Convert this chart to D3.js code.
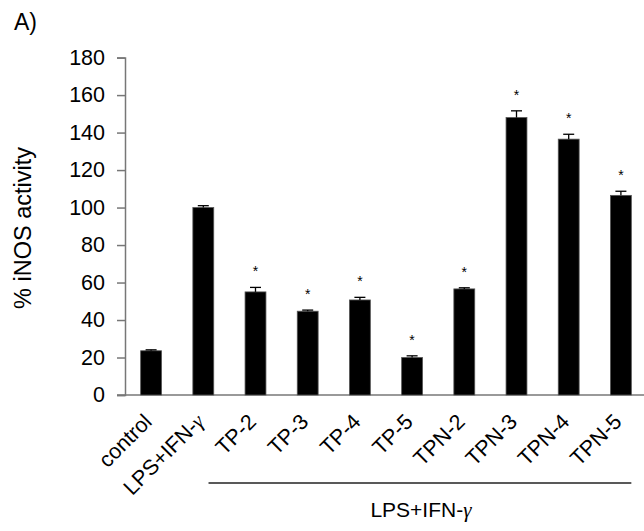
<!DOCTYPE html>
<html><head><meta charset="utf-8">
<script src="https://cdn.jsdelivr.net/npm/d3@7"></script>
<style>body{margin:0;background:#fff}svg{display:block}text{font-family:"Liberation Sans",Arial,Helvetica,sans-serif}</style>
</head><body><svg id="c" width="644" height="531"></svg>
<script>
const categories = ["control","LPS+IFN-γ","TP-2","TP-3","TP-4","TP-5","TPN-2","TPN-3","TPN-4","TPN-5"];
const values = [23.6, 100, 55, 44.7, 50.7, 20, 56.6, 148, 136.5, 106.5];
const errors = [0.5, 1.0, 2.4, 0.6, 1.4, 0.9, 0.6, 3.6, 2.6, 2.2];
const significant = [false, false, true, true, true, true, true, true, true, true];
const yTicks = [0,20,40,60,80,100,120,140,160,180];
const groupLabel = "LPS+IFN-";
const groupCats = ["TP-2","TPN-5"];

const svg = d3.select("#c");
const x = d3.scaleBand().domain(categories).range([125, 647]).paddingInner(0.6).paddingOuter(0.3);
const y = d3.scaleLinear().domain([0,180]).range([395, 57.6]);

svg.append("text").attr("x",14).attr("y",30).attr("font-size",23).text("A)");

// y axis
const ya = svg.append("g").attr("transform","translate(125,0)")
  .call(d3.axisLeft(y).tickValues(yTicks).tickSize(8).tickPadding(12));
ya.select(".domain").attr("stroke","#777").attr("stroke-width",1.5);
ya.selectAll(".tick line").attr("stroke","#777").attr("stroke-width",1.5);
ya.selectAll(".tick text").attr("font-size",21.5).attr("font-family","Liberation Sans, Arial, sans-serif").attr("fill","#000");

// x axis baseline
svg.append("line").attr("x1",117).attr("x2",644).attr("y1",y(0)).attr("y2",y(0))
  .attr("stroke","#777").attr("stroke-width",1.5);

// y title
svg.append("text").attr("transform","translate(31,228) rotate(-90)")
  .attr("text-anchor","middle").attr("font-size",23.5).text("% iNOS activity");

const data = categories.map((c,i)=>({c, v:values[i], e:errors[i], s:significant[i]}));

// bars
svg.append("g").selectAll("rect").data(data).join("rect")
  .attr("x",d=>x(d.c)).attr("width",x.bandwidth())
  .attr("y",d=>y(d.v)).attr("height",d=>y(0)-y(d.v))
  .attr("fill","#000").attr("stroke","#555").attr("stroke-width",0.8);

// error bars
const eb = svg.append("g").attr("stroke","#000").attr("stroke-width",1.3);
data.forEach(d=>{
  const cx = x(d.c)+x.bandwidth()/2;
  eb.append("line").attr("x1",cx).attr("x2",cx).attr("y1",y(d.v)).attr("y2",y(d.v+d.e));
  eb.append("line").attr("x1",cx-5.5).attr("x2",cx+5.5).attr("y1",y(d.v+d.e)).attr("y2",y(d.v+d.e));
});

// stars
svg.append("g").selectAll("text").data(data.filter(d=>d.s)).join("text")
  .attr("x",d=>x(d.c)+x.bandwidth()/2).attr("y",d=>y(d.v+d.e)-11)
  .attr("text-anchor","middle").attr("font-size",14).text("*");

// x labels
const xl = svg.append("g").selectAll("text").data(categories).join("text")
  .attr("text-anchor","end").attr("font-size",21.5)
  .attr("transform",c=>`translate(${x(c)+x.bandwidth()/2+2},${y(0)+28}) rotate(-45)`);
xl.each(function(c){
  const t = d3.select(this);
  if (c.endsWith("γ")) {
    t.append("tspan").text(c.slice(0,-1));
    t.append("tspan").attr("font-family","Liberation Serif, serif").attr("font-style","italic").text("γ");
  } else t.text(c);
});

// group bracket
const gx1 = x(groupCats[0]) - 0.7*x.step();
const gx2 = x(groupCats[1]) + x.bandwidth();
svg.append("line").attr("x1",gx1).attr("x2",gx2).attr("y1",483).attr("y2",483)
  .attr("stroke","#222").attr("stroke-width",1.3);
const gt = svg.append("text").attr("x",(gx1+gx2)/2+1).attr("y",517).attr("text-anchor","middle").attr("font-size",21);
gt.append("tspan").text(groupLabel);
gt.append("tspan").attr("font-family","Liberation Serif, serif").attr("font-style","italic").text("γ");
</script></body></html>
